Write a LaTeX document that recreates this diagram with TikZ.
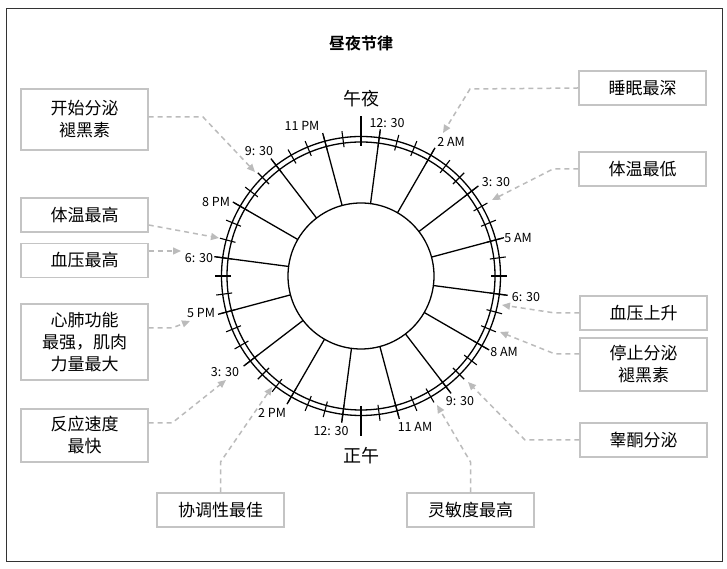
\documentclass[tikz,border=0pt]{standalone}
\usepackage{fontspec}
\setmainfont{Noto Sans CJK SC}
\newfontfamily\titlefont{Noto Sans CJK SC Bold}
\usetikzlibrary{arrows.meta,calc}
\definecolor{arr}{HTML}{BBBBBB}
\definecolor{bx}{HTML}{C4C4C4}
\tikzset{
  infobox/.style={draw=bx,line width=1.4pt,minimum width=127pt,align=center,font=\fontsize{17}{22}\selectfont,inner sep=0pt},
  callout/.style={draw=arr,line width=1.5pt,dash pattern=on 5pt off 4pt,-{Triangle[length=8pt,width=7pt]}},
  tlabel/.style={font=\fontsize{12.5}{14}\selectfont,inner sep=0pt},
  ring/.style={line width=1.3pt}
}
\begin{document}
\begin{tikzpicture}[x=1pt,y=1pt]
\useasboundingbox (0,0) rectangle (727,569);
\draw[line width=1pt,draw=black!80] (6,7) rectangle (722,560);
\node[font=\titlefont\fontsize{16}{18}\selectfont] (title) at (361,526) {昼夜节律};
\coordinate (C) at (361,293);
% rings
\draw[ring] (C) circle (73);
\draw[ring] (C) circle (134);
\draw[ring] (C) circle (139.5);
\foreach \k in {0,...,47}{
  \pgfmathsetmacro\a{90-7.5*\k}
  \draw[line width=1.1pt] ($(C)+(\a:130)$) -- ($(C)+(\a:146)$);
}
\foreach \k in {0,...,15}{
  \pgfmathsetmacro\a{82.5-22.5*\k}
  \draw[ring] ($(C)+(\a:73)$) -- ($(C)+(\a:148)$);
}
\draw[ring] ($(C)+(90:134)$) -- ($(C)+(90:160)$);
\draw[ring] ($(C)+(-90:134)$) -- ($(C)+(-90:160)$);
\node[font=\fontsize{18}{20}\selectfont] (mid) at (361,470) {午夜};
\node[font=\fontsize{18}{20}\selectfont] (noon) at (361,113) {正午};
% time labels
\node[tlabel] (l1) at (302,443) {11 PM};
\node[tlabel] (l2) at (387,446) {12: 30};
\node[tlabel] (l3) at (451,427) {2 AM};
\node[tlabel] (l4) at (496,387) {3: 30};
\node[tlabel] (l5) at (518,331) {5 AM};
\node[tlabel] (l6) at (526,272) {6: 30};
\node[tlabel] (l7) at (504,217) {8 AM};
\node[tlabel] (l8) at (460,168) {9: 30};
\node[tlabel] (l9) at (415,142) {11 AM};
\node[tlabel] (l10) at (331,138) {12: 30};
\node[tlabel] (l11) at (272,156) {2 PM};
\node[tlabel] (l12) at (225,197) {3: 30};
\node[tlabel] (l13) at (201,256) {5 PM};
\node[tlabel] (l14) at (199,311) {6: 30};
\node[tlabel] (l15) at (216,367) {8 PM};
\node[tlabel] (l16) at (259,418) {9: 30};
% boxes
\node[infobox,minimum height=61pt] (b1) at (84.5,449.5) {开始分泌\\褪黑素};
\node[infobox,minimum height=34pt] (b2) at (84.5,354) {体温最高};
\node[infobox,minimum height=34pt] (b3) at (84.5,308.5) {血压最高};
\node[infobox,minimum height=76pt] (b4) at (84.5,227) {心肺功能\\最强，肌肉\\力量最大};
\node[infobox,minimum height=53pt] (b5) at (84.5,133.5) {反应速度\\最快};
\node[infobox,minimum height=34pt] (b6) at (220.5,59) {协调性最佳};
\node[infobox,minimum height=34pt] (b7) at (470.5,59) {灵敏度最高};
\node[infobox,minimum height=34pt] (b8) at (642.5,481) {睡眠最深};
\node[infobox,minimum height=34pt] (b9) at (642.5,400) {体温最低};
\node[infobox,minimum height=34pt] (b10) at (643.5,256) {血压上升};
\node[infobox,minimum height=53pt] (b11) at (643.5,204.5) {停止分泌\\褪黑素};
\node[infobox,minimum height=34pt] (b12) at (643.5,129) {睾酮分泌};
% arrow tips
\coordinate (t1) at (255,397);
\coordinate (t2) at (219,331);
\coordinate (t3) at (181,318);
\coordinate (t4) at (190,248);
\coordinate (t5) at (226,189);
\coordinate (t6) at (272,182);
\coordinate (t7) at (437,164);
\coordinate (t8) at (443,436);
\coordinate (t9) at (492,369);
\coordinate (t10) at (502,264);
\coordinate (t11) at (500,237);
\coordinate (t12) at (468,187);
% callouts
\draw[callout] (b1.east |- 0,452) -- (203,452) -- (t1);
\draw[callout] (b2.east |- 0,344) -- (t2);
\draw[callout] (b3.east |- 0,318) -- (t3);
\draw[callout] (b4.east |- 0,241) -- (172,241) -- (t4);
\draw[callout] (b5.east |- 0,146) -- (172,146) -- (t5);
\draw[callout] (b6.north) -- (220.5,107) -- (t6);
\draw[callout] (b7.north) -- (470.5,107) -- (t7);
\draw[callout] (b8.west) -- (470,480) -- (t8);
\draw[callout] (b9.west) -- (553,400) -- (t9);
\draw[callout] (b10.west) -- (555,256) -- (t10);
\draw[callout] (b11.west |- 0,215) -- (555,215) -- (t11);
\draw[callout] (b12.west) -- (525,129) -- (t12);
\end{tikzpicture}
\end{document}
